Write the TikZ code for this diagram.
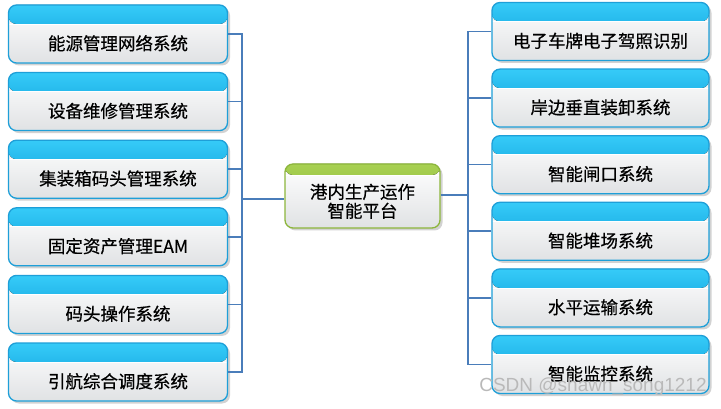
\documentclass[tikz,border=0pt]{standalone}
\usepackage{fontspec}
\newfontfamily\cjk{Noto Sans CJK SC}[FakeBold=0.5]
\newfontfamily\marcafont{Liberation Sans}
\usetikzlibrary{positioning,shadows}
\definecolor{azulBorde}{HTML}{1E9FD8}
\definecolor{azulClaro}{HTML}{36CBF8}
\definecolor{azulOscuro}{HTML}{0596D4}
\definecolor{verdeBorde}{HTML}{8DB63C}
\definecolor{verdeClaro}{HTML}{A8D052}
\definecolor{verdeOscuro}{HTML}{84B232}
\definecolor{grisCuerpo}{HTML}{E0E2E4}
\definecolor{lineaAzul}{HTML}{4A7DBA}
\tikzset{
    banda/.style n args={3}{path picture={
        \fill[top color=#1, bottom color=#2] (path picture bounding box.north west) rectangle ([yshift=-#3]path picture bounding box.north east);
        \draw[white, line width=0.8pt] ([yshift=-#3]path picture bounding box.north west) -- ([yshift=-#3]path picture bounding box.north east);}}
}

\begin{document}
\begin{tikzpicture}[
            x=1pt, y=-1pt,
            node distance=8.3pt,
            sistema/.style={draw=azulBorde, line width=1.3pt, rounded corners=8pt, minimum width=219pt, minimum height=58pt, top color=white, bottom color=grisCuerpo, drop shadow={shadow xshift=2.5pt, shadow yshift=-2.5pt, opacity=0.35}, banda={azulClaro}{azulOscuro}{19pt}, font=\cjk\fontsize{17.5}{19}\selectfont, text height=34pt, text depth=2pt},
            plataforma/.style={draw=verdeBorde, line width=1.3pt, rounded corners=8pt, minimum width=155pt, minimum height=64pt, top color=white, bottom color=grisCuerpo, drop shadow={shadow xshift=2.5pt, shadow yshift=-2.5pt, opacity=0.35}, banda={verdeClaro}{verdeOscuro}{11pt}, font=\cjk\fontsize{17.5}{19}\selectfont, align=center, text height=44pt, text depth=1pt},
            enlace/.style={lineaAzul, line width=1.6pt}
        ]
\useasboundingbox[fill=white] (0,0) rectangle (721,409);

\node[sistema] (energia) at (118,34) {能源管理网络系统};
\node[sistema, below=of energia] (equipos) {设备维修管理系统};
\node[sistema, below=of equipos] (contenedores) {集装箱码头管理系统};
\node[sistema, below=of contenedores] (activos) {固定资产管理EAM};
\node[sistema, below=of activos] (operacion) {码头操作系统};
\node[sistema, below=of operacion] (practicaje) {引航综合调度系统};

\node[plataforma] (nucleo) at (362.5,196) {港内生产运作\\智能平台};

\node[sistema, minimum width=217pt] (matricula) at (600.5,31.5) {电子车牌电子驾照识别};
\node[sistema, minimum width=217pt, below=7.3pt of matricula] (muelle) {岸边垂直装卸系统};
\node[sistema, minimum width=217pt, below=7.3pt of muelle] (puerta) {智能闸口系统};
\node[sistema, minimum width=217pt, below=7.3pt of puerta] (patio) {智能堆场系统};
\node[sistema, minimum width=217pt, below=7.3pt of patio] (transporte) {水平运输系统};
\node[sistema, minimum width=217pt, below=7.3pt of transporte] (monitoreo) {智能监控系统};

\coordinate (barraIzq) at (242,199);
\coordinate (barraDer) at (468,195);

\draw[enlace] (energia.east) -- (energia.east -| barraIzq) -- (practicaje.east -| barraIzq) -- (practicaje.east);
\draw[enlace] (equipos.east) -- (equipos.east -| barraIzq);
\draw[enlace] (contenedores.east) -- (contenedores.east -| barraIzq);
\draw[enlace] (activos.east) -- (activos.east -| barraIzq);
\draw[enlace] (operacion.east) -- (operacion.east -| barraIzq);
\draw[enlace] (barraIzq) -- (barraIzq -| nucleo.west);

\draw[enlace] (barraDer -| nucleo.east) -- (barraDer);
\draw[enlace] (matricula.west) -- (matricula.west -| barraDer) -- (monitoreo.west -| barraDer) -- (monitoreo.west);
\draw[enlace] (muelle.west) -- (muelle.west -| barraDer);
\draw[enlace] (puerta.west) -- (puerta.west -| barraDer);
\draw[enlace] (patio.west) -- (patio.west -| barraDer);
\draw[enlace] (transporte.west) -- (transporte.west -| barraDer);

\node[font=\marcafont\fontsize{19}{19}\selectfont, text=gray!55] (marca) at (593,387) {CSDN @shawn\_song1212};
        \end{tikzpicture}
\end{document}
